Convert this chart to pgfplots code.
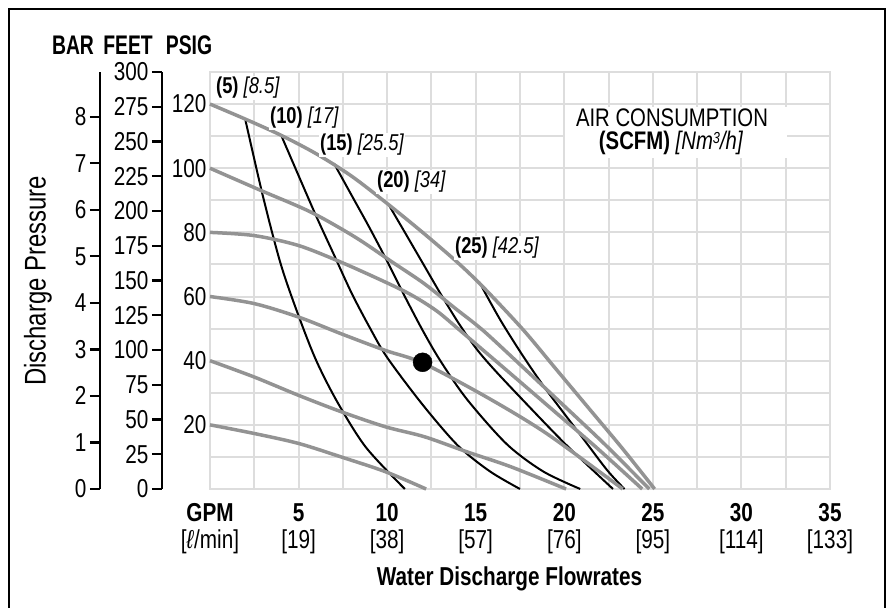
\documentclass[border=0pt]{standalone}
\usepackage{fontspec}
\setmainfont{Liberation Sans}[FakeStretch=0.8]
\newfontfamily\hdrfont{Liberation Sans}[FakeStretch=0.72]
\usepackage{pgfplots}
\pgfplotsset{compat=1.18}
\definecolor{gridc}{HTML}{DDDDDD}
\definecolor{curvec}{HTML}{939393}
\newcommand{\tfont}{\fontsize{26}{27}\selectfont}
\newcommand{\lfont}{\fontsize{23}{24}\selectfont}
\begin{document}
\begin{tikzpicture}[x=1bp,y=1bp]
% ---------- main chart ----------
\begin{axis}[
  at={(0,0)}, anchor=south west,
  scale only axis, width=620bp, height=417bp,
  xmin=0, xmax=35, ymin=0, ymax=130,
  xtick={0,5,...,35},
  minor xtick={0,2.5,...,35},
  ytick={20,40,...,120},
  minor ytick={0,10,...,130},
  grid=both,
  grid style={gridc, line width=2bp},
  minor grid style={gridc, line width=2bp},
  axis line style={gridc, line width=2bp},
  major tick length=0pt, minor tick length=0pt,
  xticklabels={{\textbf{GPM}\\{}[\textit{ℓ}/min]},{\textbf{5}\\{}[19]},{\textbf{10}\\{}[38]},{\textbf{15}\\{}[57]},{\textbf{20}\\{}[76]},{\textbf{25}\\{}[95]},{\textbf{30}\\{}[114]},{\textbf{35}\\{}[133]}},
  xticklabel style={font=\tfont, align=center, yshift=-11bp},
  yticklabel style={font=\tfont},
  /pgf/number format/assume math mode=true,
  clip=false,
]
% air consumption curves (SCFM)
\addplot[black, line width=2bp, smooth] coordinates {(2,115) (3,91) (4,70) (5,54) (6,40) (7.2,27) (8.8,13) (11,0)};
\addplot[black, line width=2bp, smooth] coordinates {(4,110.5) (5,97.7) (6,85) (7,73) (8,61) (9,50.5) (10,41) (12,26.3) (14,13.5) (15.8,5.5) (17.5,0)};
\addplot[black, line width=2bp, smooth] coordinates {(7,101.5) (8,91.5) (9,81.5) (10,71) (11,60) (12,49.5) (13,40) (14.5,28) (16.75,14) (18.8,5.5) (20.9,0)};
\addplot[black, line width=2bp, smooth] coordinates {(10.1,88.5) (11,80) (12,70.5) (13,61) (14,52) (15,44) (16,37.5) (17.7,27.5) (20.1,13.8) (22.75,0)};
\addplot[black, line width=2bp, smooth] coordinates {(15.2,64.5) (16.4,52.6) (17.7,41.2) (19,30.8) (20.7,18.4) (22.4,6) (23.4,0)};
% pump curves at air inlet pressures
\addplot[curvec, line width=3.5bp, smooth] coordinates {(0,120) (2,115.3) (4,110.3) (6,104.5) (8,97.5) (10,89) (12,80) (14,70.5) (15.5,62.5) (17.7,49.5) (19.5,37.6) (21.5,24.4) (23.3,12.5) (25.1,0)};
\addplot[curvec, line width=3.5bp, smooth] coordinates {(0,100) (2.9,93) (5.7,86.3) (8.2,78.5) (10.3,70.7) (12.1,64) (13.8,56.5) (15.4,49.5) (17.5,38.8) (19.8,26.9) (22.2,14.4) (24.8,0)};
\addplot[curvec, line width=3.5bp, smooth] coordinates {(0,80) (2.5,79) (5,75.9) (7.4,70.7) (9.9,64.5) (11.4,60.4) (12.8,55.5) (14.1,49.5) (16.6,37.7) (19.4,24.4) (21.8,13) (24.4,0)};
\addplot[curvec, line width=3.5bp, smooth] coordinates {(0,60) (2.5,57.8) (5,53.6) (7.4,48.4) (9.9,43.2) (12,39.3) (15.6,28.7) (19,17.3) (23.3,0)};
\addplot[curvec, line width=3.5bp, smooth] coordinates {(0,40) (2.5,34.9) (5,29.2) (7.4,24.1) (9.9,19.4) (12.1,16.3) (14.5,11.6) (17,6.9) (20.1,0)};
\addplot[curvec, line width=3.5bp, smooth] coordinates {(0,20) (2.5,17.3) (5,14.2) (7.4,10) (9.9,5.4) (12.2,0)};
% operating point
\addplot[only marks, mark=*, mark size=9.5bp, black] coordinates {(12,39.5)};
\end{axis}
% ---------- FEET axis ----------
\begin{axis}[
  at={(-48bp,0)}, anchor=south west,
  scale only axis, width=10bp, height=417bp,
  xmin=0, xmax=1, ymin=0, ymax=300,
  axis x line=none, axis y line*=left,
  ytick={0,25,...,300},
  tick align=outside, major tick length=10bp,
  axis line style={black, line width=2.5bp},
  every tick/.style={black, line width=2.2bp},
  yticklabel style={font=\tfont},
  /pgf/number format/assume math mode=true,
]
\addplot[draw=none] coordinates {(0,0)};
\end{axis}
% ---------- BAR axis ----------
\begin{axis}[
  at={(-110bp,0)}, anchor=south west,
  scale only axis, width=10bp, height=417bp,
  xmin=0, xmax=1, ymin=0, ymax=8.963,
  axis x line=none, axis y line*=left,
  ytick={0,1,...,8},
  tick align=outside, major tick length=10bp,
  axis line style={black, line width=2.5bp},
  every tick/.style={black, line width=2.2bp},
  yticklabel style={font=\tfont},
  /pgf/number format/assume math mode=true,
]
\addplot[draw=none] coordinates {(0,0)};
\end{axis}
% ---------- texts ----------
\node[anchor=base, font=\hdrfont\fontsize{27}{28}\selectfont\bfseries] at (-137,434.5) {BAR};
\node[anchor=base, font=\hdrfont\fontsize{27}{28}\selectfont\bfseries] at (-82,434.5) {FEET};
\node[anchor=base, font=\hdrfont\fontsize{27}{28}\selectfont\bfseries] at (-21,434.5) {PSIG};
\node[rotate=90, font=\fontsize{30}{31}\selectfont] at (-172,208) {Discharge Pressure};
\node[anchor=base, font=\tfont\bfseries] at (299.5,-97) {Water Discharge Flowrates};
\node[anchor=west, fill=white, inner sep=1bp, font=\lfont] at (5,401) {\textbf{(5)} \textit{[8.5]}};
\node[anchor=west, fill=white, inner sep=1bp, font=\lfont] at (59,371) {\textbf{(10)} \textit{[17]}};
\node[anchor=west, fill=white, inner sep=1bp, font=\lfont] at (109,344) {\textbf{(15)} \textit{[25.5]}};
\node[anchor=west, fill=white, inner sep=1bp, font=\lfont] at (166,307) {\textbf{(20)} \textit{[34]}};
\node[anchor=west, fill=white, inner sep=1bp, font=\lfont] at (244,241) {\textbf{(25)} \textit{[42.5]}};
\fill[white] (355,331) rectangle (577,382);
\node[anchor=base, font=\fontsize{25.5}{26}\selectfont, inner sep=0pt] at (462,362) {AIR CONSUMPTION};
\node[anchor=base, font=\fontsize{25.5}{26}\selectfont, inner sep=0pt] at (461,339) {\textbf{(SCFM)} \textit{[Nm\raisebox{0.26em}{\fontsize{16}{16}\selectfont 3}/h]}};
% ---------- frame and page ----------
\draw[line width=1.5bp] (-201,-125) -- (-201,480) -- (675,480) -- (675,-125);
\pgfresetboundingbox
\path[use as bounding box] (-210,-119) rectangle (678,489);
\end{tikzpicture}
\end{document}
